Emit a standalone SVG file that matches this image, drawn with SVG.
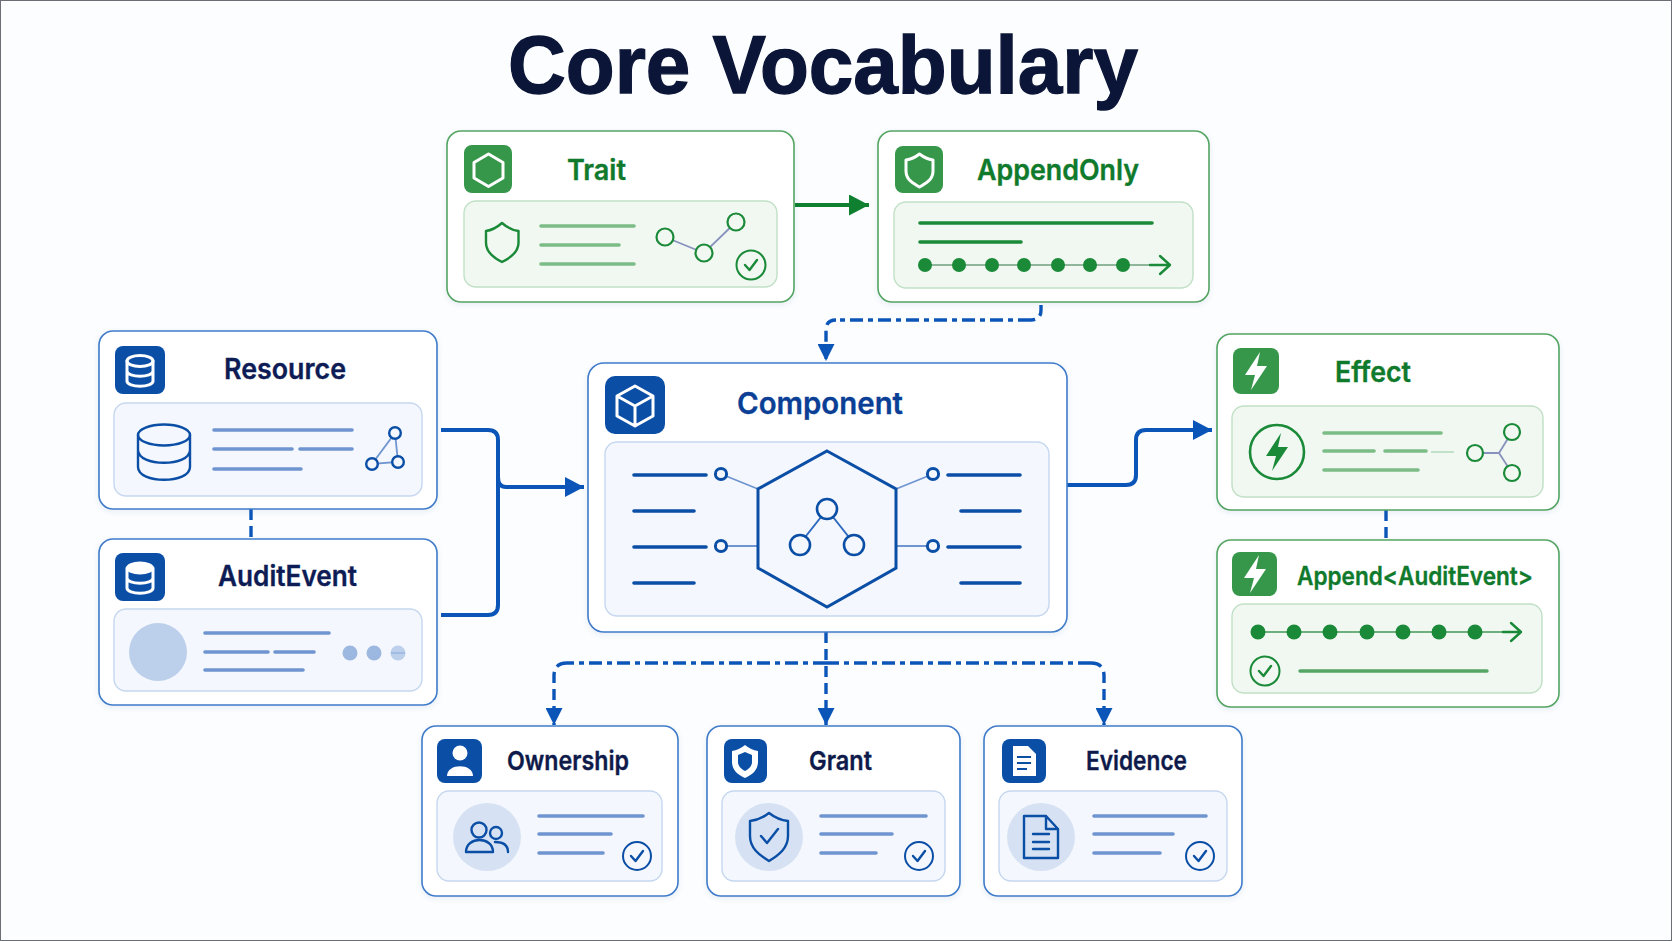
<svg xmlns="http://www.w3.org/2000/svg" xmlns:xlink="http://www.w3.org/1999/xlink" width="1672" height="941" viewBox="0 0 1672 941">
<style>
text{font-family:"Inter","Liberation Sans",sans-serif;font-weight:600;stroke-width:.35;paint-order:stroke}
.title{font-family:"Liberation Sans",Arial,sans-serif;font-weight:700;font-size:81px;fill:#0b1538;stroke:#0b1538;stroke-width:1.3}
.nv{font-size:28px;fill:#0e1c55;stroke:#0e1c55}
.nv2{font-size:26px;fill:#0e1a4a;stroke:#0e1a4a}
.cp{font-size:30px;fill:#0b3f96;stroke:#0b3f96}
.gr{font-size:28px;fill:#0f7a2c;stroke:#0f7a2c}
.card{fill:#fff;stroke-width:1.6;filter:url(#sh)}
.b{stroke:#3f7cca}.g{stroke:#54a562}
.ib{fill:#f4f7fd;stroke:#c6d7f0;stroke-width:1.4}
.ig{fill:#f1f8f2;stroke:#c1e0c6;stroke-width:1.4}
.ic-b{fill:#0b4ea6}.ic-g{fill:#36974b}
.wl{fill:none;stroke:#fff;stroke-width:3;stroke-linejoin:round;stroke-linecap:round}
.lb{stroke:#6f95d0;stroke-width:3.6;stroke-linecap:round;fill:none}
.lg{stroke:#7cbc86;stroke-width:3.6;stroke-linecap:round;fill:none}
.dg{stroke:#1a8a38;stroke-width:3.6;stroke-linecap:round;fill:none}
.db{stroke:#0b4ea6;stroke-width:3.6;stroke-linecap:round;fill:none}
.ob{fill:none;stroke:#0b4ea6;stroke-width:2.4;stroke-linejoin:round;stroke-linecap:round}
.og{fill:none;stroke:#1a8a38;stroke-width:2.4;stroke-linejoin:round;stroke-linecap:round}
.cb{fill:none;stroke:#0b55b8;stroke-width:4;stroke-linejoin:round}
.cd{fill:none;stroke:#0b55b8;stroke-width:3.4;stroke-dasharray:11 6}
.cdd{fill:none;stroke:#0b55b8;stroke-width:3.4;stroke-dasharray:13 5 5 5}
.thb{stroke:#6f95d0;stroke-width:1.8;fill:none}
.thg{stroke:#8792bd;stroke-width:1.8;fill:none}
.disc{fill:#d6e2f3}
</style>
<defs>
<filter id="sh" x="-5%" y="-5%" width="110%" height="112%"><feDropShadow dx="0" dy="2" stdDeviation="2.5" flood-color="#2a5aa0" flood-opacity="0.10"/></filter>
<marker id="ab" markerUnits="userSpaceOnUse" markerWidth="19" markerHeight="20" refX="19" refY="10" orient="auto"><path d="M0 0L19 10L0 20Z" fill="#0b55b8"/></marker>
<marker id="ad" markerUnits="userSpaceOnUse" markerWidth="17" markerHeight="17" refX="17" refY="8.5" orient="auto"><path d="M0 0L17 8.5L0 17Z" fill="#0b55b8"/></marker>
<marker id="ag" markerUnits="userSpaceOnUse" markerWidth="20" markerHeight="21" refX="20" refY="10.5" orient="auto"><path d="M0 0L20 10.5L0 21Z" fill="#0f7f30"/></marker>
<g id="chkB"><circle r="14" fill="none" stroke="#0b4ea6" stroke-width="2"/><path d="M-6 0L-1.5 5L6 -5" class="ob"/></g>
<g id="chkG"><circle r="14.5" fill="none" stroke="#1a8a38" stroke-width="2"/><path d="M-6 0L-1.5 5L6 -5" class="og"/></g>
<path id="bolt" d="M4 -19L-11 4H-1L-5 19L11 -5H1Z"/>
</defs>
<rect x="0" y="0" width="1672" height="941" fill="#fcfdfe"/>
<rect x="0.5" y="0.5" width="1671" height="940" fill="none" stroke="#6b6f75" stroke-width="1"/>
<text class="title" x="508" y="93" textLength="630" lengthAdjust="spacingAndGlyphs">Core Vocabulary</text>

<g id="connectors">
<path class="cb" d="M441 430H488Q498 430 498 440V605Q498 615 488 615H441"/>
<path class="cb" marker-end="url(#ab)" d="M498 477Q498 487 506 487H584"/>
<path class="cb" marker-end="url(#ab)" d="M1067 485H1126Q1136 485 1136 475V440Q1136 430 1146 430H1212"/>
<path fill="none" stroke="#0f7f30" stroke-width="4" marker-end="url(#ag)" d="M795 205H869"/>
<path class="cd" d="M1041 288V310Q1041 320 1031 320"/>
<path class="cdd" d="M1031 320H836"/>
<path class="cd" marker-end="url(#ad)" d="M836 320Q826 320 826 330V361"/>
<path class="cd" d="M251 509V539M1386 510V540"/>
<path class="cd" marker-end="url(#ad)" d="M826 632V725"/>
<path class="cdd" d="M826 663H567M826 663H1091"/>
<path class="cd" marker-end="url(#ad)" d="M567 663Q554 663 554 676V725"/>
<path class="cd" marker-end="url(#ad)" d="M1091 663Q1104 663 1104 676V725"/>
</g>

<g id="trait">
<rect class="card g" x="447" y="131" width="347" height="171" rx="14"/>
<rect class="ic-g" x="464" y="145" width="48" height="48" rx="8"/>
<path class="wl" d="M488.500 154L503 162.500V178L488.500 186.500L474 178V162.500Z" stroke-width="3.400"/>
<text class="gr" x="567" y="180" textLength="59" lengthAdjust="spacingAndGlyphs">Trait</text>
<rect class="ig" x="464" y="201" width="313" height="86" rx="12"/>
<path class="og" d="M502 223Q510 230 518.500 231V243C518.500 252 510 258 502 262C494 258 486 252 486 243V231Q494 230 502 223Z"/>
<path class="lg" d="M541 226H634M541 245H619M541 264H634"/>
<path class="thg" d="M665 237L704 253L736 222"/>
<g fill="#f1f8f2" stroke="#1a8a38" stroke-width="2.2"><circle cx="665" cy="237" r="8.500"/><circle cx="704" cy="253" r="8.500"/><circle cx="736" cy="222" r="8.500"/></g>
<use href="#chkG" x="751" y="265"/>
</g>

<g id="appendonly">
<rect class="card g" x="878" y="131" width="331" height="171" rx="14"/>
<rect class="ic-g" x="895" y="146" width="48" height="47" rx="8"/>
<path class="wl" d="M919.500 154Q926 159 933 160V171C933 180 926 183 919.500 187C913 183 906 180 906 171V160Q913 159 919.500 154Z"/>
<text class="gr" x="977" y="180" textLength="162" lengthAdjust="spacingAndGlyphs">AppendOnly</text>
<rect class="ig" x="894" y="202" width="299" height="86" rx="12"/>
<path class="dg" d="M920 223H1152M920 242H1021"/>
<path stroke="#8fb59a" stroke-width="1.8" fill="none" d="M925 265H1168"/>
<path class="og" d="M1150 265H1169M1160 256L1170 265L1160 274"/>
<g fill="#1a8a38"><circle cx="925" cy="265" r="7"/><circle cx="959" cy="265" r="7"/><circle cx="992" cy="265" r="7"/><circle cx="1024" cy="265" r="7"/><circle cx="1058" cy="265" r="7"/><circle cx="1090" cy="265" r="7"/><circle cx="1123" cy="265" r="7"/></g>
</g>

<g id="resource">
<rect class="card b" x="99" y="331" width="338" height="178" rx="14"/>
<rect class="ic-b" x="115" y="346" width="50" height="48" rx="8"/>
<ellipse cx="140" cy="361" rx="13" ry="5.500" class="wl"/><path d="M127 361V381C127 388 153 388 153 381V361M127 371C127 378 153 378 153 371" class="wl"/>
<text class="nv" x="224" y="379" textLength="122" lengthAdjust="spacingAndGlyphs">Resource</text>
<rect class="ib" x="114" y="403" width="308" height="93" rx="12"/>
<g class="ob" stroke-width="2.6"><ellipse cx="164" cy="435" rx="26" ry="10.500"/><path d="M138 435V467C138 484 190 484 190 467V435M138 450C138 467 190 467 190 450"/></g>
<path class="lb" d="M214 430H352M214 449H292M300 449H352M214 469H301"/>
<path class="thb" d="M395 433L372 464L398 462Z"/>
<g fill="#f4f7fd" stroke="#0b4ea6" stroke-width="2.4"><circle cx="395" cy="433" r="5.800"/><circle cx="372" cy="464" r="5.800"/><circle cx="398" cy="462" r="5.800"/></g>
</g>

<g id="auditevent">
<rect class="card b" x="99" y="539" width="338" height="166" rx="14"/>
<rect class="ic-b" x="115" y="553" width="50" height="48" rx="8"/>
<ellipse cx="140" cy="568" rx="13" ry="5.500" fill="#fff" stroke="#fff" stroke-width="2"/><path d="M127 568V588C127 595 153 595 153 588V568M127 578C127 585 153 585 153 578" class="wl"/>
<text class="nv" x="218" y="586" textLength="139" lengthAdjust="spacingAndGlyphs">AuditEvent</text>
<rect class="ib" x="114" y="609" width="308" height="82" rx="12"/>
<circle cx="158" cy="652" r="29" fill="#bccfeb"/>
<path class="lb" d="M205 633H329M205 652H268M275 652H314M205 670H303"/>
<g fill="#9db8e0"><circle cx="350" cy="653" r="7.500"/><circle cx="374" cy="653" r="7.500"/><circle cx="398" cy="653" r="7.500" fill="#bccfeb"/></g>
<path d="M391 653H405" stroke="#9db8e0" stroke-width="1.600"/>
</g>

<g id="component">
<rect class="card b" x="588" y="363" width="479" height="269" rx="16"/>
<rect class="ic-b" x="605" y="376" width="60" height="58" rx="10"/>
<path class="wl" d="M635 386L653 396V416L635 426L617 416V396ZM617 396L635 406L653 396M635 406V426" stroke-width="3.400"/>
<text class="cp" x="737" y="414" textLength="166" lengthAdjust="spacingAndGlyphs">Component</text>
<rect class="ib" x="605" y="442" width="444" height="174" rx="12"/>
<path class="db" d="M634 475H706M634 511H694M634 547H706M634 583H694M948 475H1020M961 511H1020M948 547H1020M961 583H1020"/>
<path class="thb" d="M721 474L758 489M721 546H758M933 474L896 489M933 546H896"/>
<g fill="#f4f7fd" stroke="#0b4ea6" stroke-width="3"><circle cx="721" cy="474" r="5.600"/><circle cx="721" cy="546" r="5.600"/><circle cx="933" cy="474" r="5.600"/><circle cx="933" cy="546" r="5.600"/></g>
<path fill="none" stroke="#0b4ea6" stroke-width="3" d="M827 451L896 489V568L827 607L758 568V489Z"/>
<path stroke="#2f6bc0" stroke-width="2" fill="none" d="M821 517L806 536M833 517L848 536"/>
<g fill="none" stroke="#0b4ea6" stroke-width="2.600"><circle cx="827" cy="509" r="10"/><circle cx="800" cy="545" r="10"/><circle cx="854" cy="545" r="10"/></g>
</g>

<g id="effect">
<rect class="card g" x="1217" y="334" width="342" height="176" rx="14"/>
<rect class="ic-g" x="1233" y="348" width="46" height="46" rx="8"/>
<use href="#bolt" x="1256" y="371" fill="#fff"/>
<text class="gr" x="1335" y="382" textLength="76" lengthAdjust="spacingAndGlyphs">Effect</text>
<rect class="ig" x="1232" y="406" width="311" height="91" rx="12"/>
<circle cx="1277" cy="452" r="27" fill="none" stroke="#1a8a38" stroke-width="2.600"/>
<use href="#bolt" x="1277" y="452" fill="#1a8a38"/>
<path class="lg" d="M1324 433H1441M1324 451H1374M1385 451H1426M1324 470H1418"/>
<path stroke="#c3e0c8" stroke-width="2" d="M1431 452H1454"/>
<path class="thg" d="M1475 453H1499L1512 432M1499 453L1512 473"/>
<g fill="#f1f8f2" stroke="#1a8a38" stroke-width="2.200"><circle cx="1475" cy="453" r="8"/><circle cx="1512" cy="432" r="8"/><circle cx="1512" cy="473" r="8"/></g>
</g>

<g id="append-auditevent">
<rect class="card g" x="1217" y="540" width="342" height="167" rx="14"/>
<rect class="ic-g" x="1232" y="552" width="45" height="44" rx="8"/>
<use href="#bolt" x="1255" y="574" fill="#fff"/>
<text class="gr" x="1297" y="585" style="font-size:25px" textLength="236" lengthAdjust="spacingAndGlyphs">Append&lt;AuditEvent&gt;</text>
<rect class="ig" x="1232" y="604" width="310" height="89" rx="12"/>
<path stroke="#6fae7d" stroke-width="1.800" fill="none" d="M1258 632H1520"/>
<path class="og" d="M1503 632H1521M1511 623L1521 632L1511 641"/>
<g fill="#1a8a38"><circle cx="1258" cy="632" r="7.500"/><circle cx="1294" cy="632" r="7.500"/><circle cx="1330" cy="632" r="7.500"/><circle cx="1367" cy="632" r="7.500"/><circle cx="1403" cy="632" r="7.500"/><circle cx="1439" cy="632" r="7.500"/><circle cx="1475" cy="632" r="7.500"/></g>
<use href="#chkG" x="1265" y="671"/>
<path d="M1300 671H1487" stroke="#55a565" stroke-width="3.400" stroke-linecap="round" fill="none"/>
</g>

<g id="ownership">
<rect class="card b" x="422" y="726" width="256" height="170" rx="14"/>
<rect class="ic-b" x="437" y="739" width="45" height="44" rx="8"/>
<circle cx="460" cy="753" r="7.500" fill="#fff"/><path d="M447 776C447 763 473 763 473 776Z" fill="#fff"/>
<text class="nv2" x="507" y="770" textLength="122" lengthAdjust="spacingAndGlyphs">Ownership</text>
<rect class="ib" x="437" y="791" width="225" height="90" rx="12"/>
<circle class="disc" cx="487" cy="837" r="34"/>
<g class="ob" stroke-width="2"><circle cx="479" cy="830" r="7.500"/><circle cx="496" cy="833" r="6"/><path d="M466 852C466 836 493 836 493 852ZM495 842C504 842 508 846 508 852"/></g>
<path class="lb" d="M539 816H643M539 834H611M539 853H603"/>
<use href="#chkB" x="637" y="856"/>
</g>

<g id="grant">
<rect class="card b" x="707" y="726" width="253" height="170" rx="14"/>
<rect class="ic-b" x="724" y="739" width="43" height="44" rx="8"/>
<path d="M745 745Q751 750 758 751V762C758 770 752 775 745 778C738 775 732 770 732 762V751Q739 750 745 745Z" fill="#fff"/>
<path d="M745 752L752 755V762C752 766 749 769 745 771C741 769 738 766 738 762V755Z" fill="#0b4ea6"/>
<text class="nv2" x="809" y="770" textLength="63" lengthAdjust="spacingAndGlyphs">Grant</text>
<rect class="ib" x="722" y="791" width="223" height="90" rx="12"/>
<circle class="disc" cx="769" cy="837" r="34"/>
<path class="ob" d="M769 813Q778 820 788 821V836C788 848 779 855 769 861C759 855 750 848 750 836V821Q760 820 769 813Z"/>
<path class="ob" d="M761 836L767 843L778 829"/>
<path class="lb" d="M821 816H926M821 834H892M821 853H876"/>
<use href="#chkB" x="919" y="856"/>
</g>

<g id="evidence">
<rect class="card b" x="984" y="726" width="258" height="170" rx="14"/>
<rect class="ic-b" x="1002" y="739" width="44" height="44" rx="8"/>
<path d="M1013 746H1028L1036 754V776H1013Z" fill="#fff"/>
<path d="M1017 757H1031M1017 763H1031M1017 769H1027" stroke="#0b4ea6" stroke-width="2"/>
<text class="nv2" x="1086" y="770" textLength="101" lengthAdjust="spacingAndGlyphs">Evidence</text>
<rect class="ib" x="999" y="791" width="228" height="90" rx="12"/>
<circle class="disc" cx="1041" cy="837" r="34"/>
<path class="ob" d="M1024 816H1046L1058 829V858H1024ZM1046 816V829H1058"/>
<path class="ob" d="M1033 834H1049M1033 842H1049M1033 849H1049"/>
<path class="lb" d="M1094 816H1206M1094 834H1173M1094 853H1160"/>
<use href="#chkB" x="1200" y="856"/>
</g>
</svg>
